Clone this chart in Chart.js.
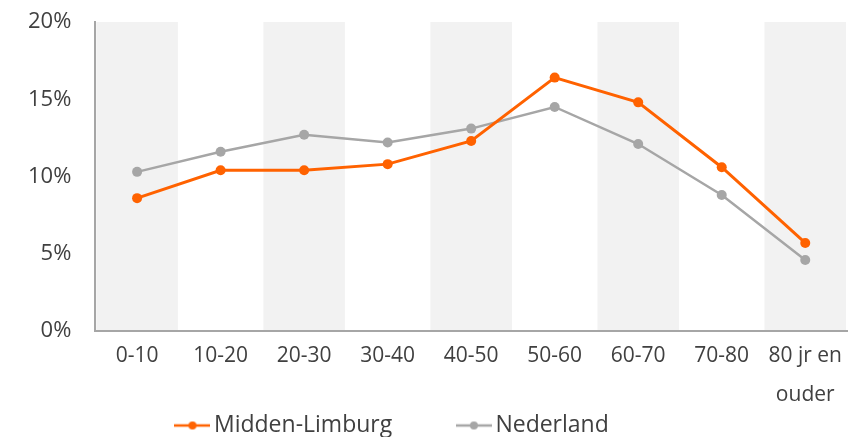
<!DOCTYPE html>
<html>
<head>
<meta charset="utf-8">
<script src="https://cdn.jsdelivr.net/npm/chart.js@4"></script>
<style>
html,body{margin:0;padding:0;background:#fff;}
#wrap{width:861px;height:437px;position:relative;}
</style>
</head>
<body>
<div id="wrap"><canvas id="c" width="861" height="437"></canvas></div>
<script>
const categories = ["0-10","10-20","20-30","30-40","40-50","50-60","60-70","70-80",["80 jr en","ouder"]];
const middenLimburg = [8.6, 10.4, 10.4, 10.8, 12.3, 16.4, 14.8, 10.6, 5.7];
const nederland = [10.3, 11.6, 12.7, 12.2, 13.1, 14.5, 12.1, 8.8, 4.6];
const yTicks = [0, 5, 10, 15, 20];

const ORANGE = '#ff6200';
const GREY = '#a6a6a6';
const TEXT = '#404040';
const FONT = "'Open Sans', sans-serif";

function legendIcon(color, lw){
  const cv = document.createElement('canvas');
  cv.width = 36; cv.height = 12;
  const x = cv.getContext('2d');
  x.strokeStyle = color; x.lineWidth = lw;
  x.beginPath(); x.moveTo(0,6); x.lineTo(36,6); x.stroke();
  x.fillStyle = color;
  x.beginPath(); x.arc(18,6,4,0,Math.PI*2); x.fill();
  return cv;
}

const bandPlugin = {
  id: 'bands',
  beforeDraw(chart){
    const {ctx, chartArea, scales} = chart;
    const xs = scales.x;
    const n = categories.length;
    const w = (xs.right - xs.left) / n;
    ctx.save();
    ctx.fillStyle = '#f2f2f2';
    for (let i = 0; i < n; i += 2){
      const cx = xs.getPixelForValue(i);
      ctx.fillRect(cx - w/2 + 1, chartArea.top, w - 2, chartArea.bottom - chartArea.top);
    }
    ctx.restore();
  }
};

new Chart(document.getElementById('c'), {
  type: 'line',
  data: {
    labels: categories,
    datasets: [
      {label: 'Midden-Limburg', data: middenLimburg, borderColor: ORANGE, backgroundColor: ORANGE,
       borderWidth: 3, pointRadius: 5, pointBackgroundColor: ORANGE, pointBorderWidth: 0, tension: 0},
      {label: 'Nederland', data: nederland, borderColor: GREY, backgroundColor: GREY,
       borderWidth: 2.5, pointRadius: 5, pointBackgroundColor: GREY, pointBorderWidth: 0, tension: 0}
    ]
  },
  options: {
    responsive: false,
    animation: false,
    layout: {padding: {top: 22, right: 14, left: 4, bottom: -10}, autoPadding: false},
    plugins: {
      legend: {
        position: 'bottom',
        labels: {
          font: {family: FONT, size: 23, lineHeight: 1.0},
          color: TEXT,
          usePointStyle: true,
          pointStyleWidth: 20,
          boxHeight: 12,
          padding: 0,
          generateLabels(chart){
            return chart.data.datasets.map((ds, i) => ({
              text: ds.label + (i === 0 ? '            ' : '          '),
              fillStyle: ds.borderColor,
              strokeStyle: ds.borderColor,
              fontColor: TEXT,
              lineWidth: 0,
              pointStyle: legendIcon(ds.borderColor, 2.5),
              datasetIndex: i,
              hidden: false
            }));
          }
        }
      },
      tooltip: {enabled: false}
    },
    scales: {
      x: {
        offset: true,
        afterFit(axis){ axis.height = 83; },
        grid: {display: false, drawTicks: false},
        border: {color: GREY, width: 2},
        ticks: {font: {family: FONT, size: 21, lineHeight: 1.85}, color: TEXT, padding: 6, maxRotation: 0, autoSkip: false}
      },
      y: {
        min: 0, max: 20,
        afterBuildTicks(axis){ axis.ticks = yTicks.map(v => ({value: v})); },
        afterFit(axis){ axis.paddingTop = 0; axis.paddingBottom = 0; },
        grid: {display: false, drawTicks: false},
        border: {color: GREY, width: 2},
        ticks: {font: {family: FONT, size: 22}, color: TEXT, padding: 24, callback: v => v + '%'}
      }
    }
  },
  plugins: [bandPlugin]
});
</script>
</body>
</html>
